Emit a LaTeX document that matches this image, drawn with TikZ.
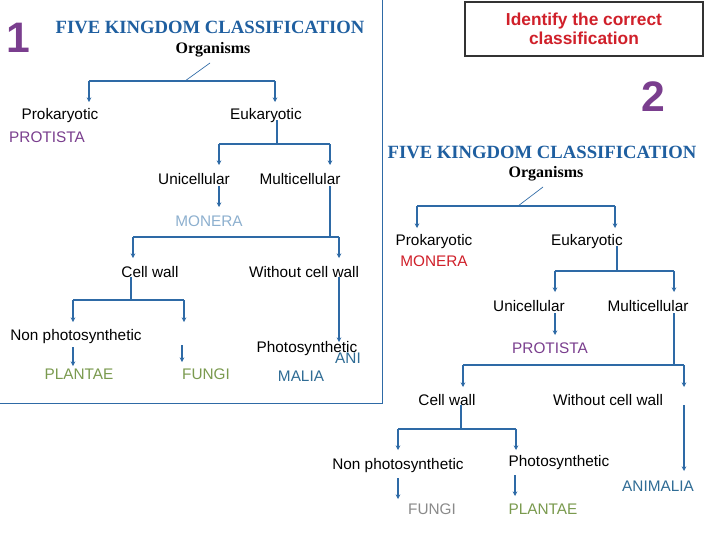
\documentclass[tikz,border=0pt]{standalone}
\usepackage{fontspec}
\setmainfont{Liberation Sans}
\newfontfamily\serifb{Liberation Serif}
\usetikzlibrary{arrows.meta}
\definecolor{ln}{HTML}{2E6AA6}
\definecolor{ttl}{HTML}{1F5FA0}
\definecolor{purp}{HTML}{7A3E8E}
\definecolor{monl}{HTML}{8DB0CF}
\definecolor{grn}{HTML}{7A9A4E}
\definecolor{teal}{HTML}{2F6C95}
\definecolor{redt}{HTML}{D0202A}
\definecolor{gry}{HTML}{8A8A8A}
\tikzset{
 txt/.style={font=\fontsize{11.5}{12}\selectfont, inner sep=0pt},
 ttlstyle/.style={font=\serifb\bfseries\fontsize{14}{15}\selectfont, text=ttl, xscale=1.0, inner sep=0pt},
 org/.style={font=\serifb\bfseries\fontsize{12}{12}\selectfont, inner sep=0pt},
 num/.style={font=\bfseries\fontsize{32}{32}\selectfont, text=purp, inner sep=0pt},
 br/.style={draw=ln, line width=1.1pt},
 ar/.style={draw=ln, line width=1.1pt, -{Stealth[length=3.5pt,width=3.5pt]}},
 thin/.style={draw=ln, line width=0.5pt}
}
\begin{document}
\begin{tikzpicture}[x=0.75pt,y=-0.75pt]
\useasboundingbox (0,0) rectangle (720,540);
\fill[white] (0,0) rectangle (720,540);
% ---------- Panel 1 ----------
\node[num] (n1) at (18,38) {1};
\node[ttlstyle] (t1) at (210,27) {FIVE KINGDOM CLASSIFICATION};
\node[org] (o1) at (213,50) {Organisms};
\coordinate (d1a) at (210,63); \coordinate (d1b) at (185,81);
\draw[thin] (d1a) -- (d1b);
\node[txt] (pro1) at (60,116) {Prokaryotic};
\node[txt,text=purp] (prot1) at (47,137) {PROTISTA};
\node[txt] (euk1) at (266,116) {Eukaryotic};
\draw[br] (89,81) -- (275,81);
\draw[ar] (89,81) -- (89,102);
\draw[ar] (275,81) -- (275,102);
\node[txt] (uni1) at (194,179) {Unicellular};
\node[txt] (mul1) at (300,179) {Multicellular};
\draw[br] (277,120) -- (277,144);
\draw[br] (219,144) -- (330,144);
\draw[ar] (219,144) -- (219,165);
\draw[ar] (330,144) -- (330,165);
\node[txt,text=monl] (mon1) at (209,221) {MONERA};
\draw[ar] (219,186) -- (219,207);
\node[txt] (cw1) at (150,272) {Cell wall};
\node[txt] (wcw1) at (304,272) {Without cell wall};
\draw[br] (330,186) -- (330,237);
\draw[br] (133,237) -- (339,237);
\draw[ar] (133,237) -- (133,258);
\draw[ar] (339,237) -- (339,258);
\draw[br] (131,277) -- (131,300);
\draw[br] (73,300) -- (184,300);
\draw[ar] (73,300) -- (73,322);
\draw[ar] (184,300) -- (184,322);
\node[txt] (np1) at (76,337) {Non photosynthetic};
\draw[ar] (73,347) -- (73,366);
\node[txt,text=grn] (pl1) at (79,374) {PLANTAE};
\draw[ar] (182,345) -- (182,362);
\node[txt,text=grn] (fu1) at (206,374) {FUNGI};
\draw[ar] (339,277) -- (339,342);
\node[txt] (ph1) at (307,349) {Photosynthetic};
\node[txt,text=teal] (ani1) at (348,358) {ANI};
\node[txt,text=teal] (mal1) at (301,376) {MALIA};
\draw[thin] (382,0) -- (382,403) -- (0,403);
% ---------- Box ----------
\node[draw=black!80, line width=0.8pt, minimum width=238*0.75pt, minimum height=54*0.75pt, align=center,
 font=\bfseries\fontsize{13}{14.5}\selectfont, text=redt, fill=white] (box) at (584,29) {Identify the correct\\classification};
\node[num] (n2) at (653,97) {2};
% ---------- Panel 2 ----------
\node[ttlstyle] (t2) at (542,152) {FIVE KINGDOM CLASSIFICATION};
\node[org] (o2) at (546,174) {Organisms};
\coordinate (d2a) at (543,187); \coordinate (d2b) at (518,206);
\draw[thin] (d2a) -- (d2b);
\draw[br] (417,206) -- (615,206);
\draw[ar] (417,206) -- (417,228);
\draw[ar] (615,206) -- (615,228);
\node[txt] (pro2) at (434,242) {Prokaryotic};
\node[txt,text=redt] (mon2) at (434,261) {MONERA};
\node[txt] (euk2) at (587,242) {Eukaryotic};
\draw[br] (617,246) -- (617,271);
\draw[br] (555,271) -- (674,271);
\draw[ar] (555,271) -- (555,292);
\draw[ar] (674,271) -- (674,292);
\node[txt] (uni2) at (529,306) {Unicellular};
\node[txt] (mul2) at (648,306) {Multicellular};
\draw[ar] (555,313) -- (555,335);
\node[txt,text=purp] (prot2) at (550,348) {PROTISTA};
\draw[br] (674,313) -- (674,365);
\draw[br] (463,365) -- (684,365);
\draw[ar] (463,365) -- (463,387);
\draw[ar] (684,365) -- (684,387);
\node[txt] (cw2) at (447,400) {Cell wall};
\node[txt] (wcw2) at (608,400) {Without cell wall};
\draw[br] (461,405) -- (461,429);
\draw[br] (398,429) -- (516,429);
\draw[ar] (398,429) -- (398,450);
\draw[ar] (516,429) -- (516,450);
\node[txt] (np2) at (398,466) {Non photosynthetic};
\node[txt] (ph2) at (559,463) {Photosynthetic};
\draw[ar] (398,478) -- (398,499);
\node[txt,text=gry] (fu2) at (432,509) {FUNGI};
\draw[ar] (515,475) -- (515,496);
\node[txt,text=grn] (pl2) at (543,509) {PLANTAE};
\draw[ar] (684,405) -- (684,471);
\node[txt,text=teal] (an2) at (658,486) {ANIMALIA};
\end{tikzpicture}
\end{document}
